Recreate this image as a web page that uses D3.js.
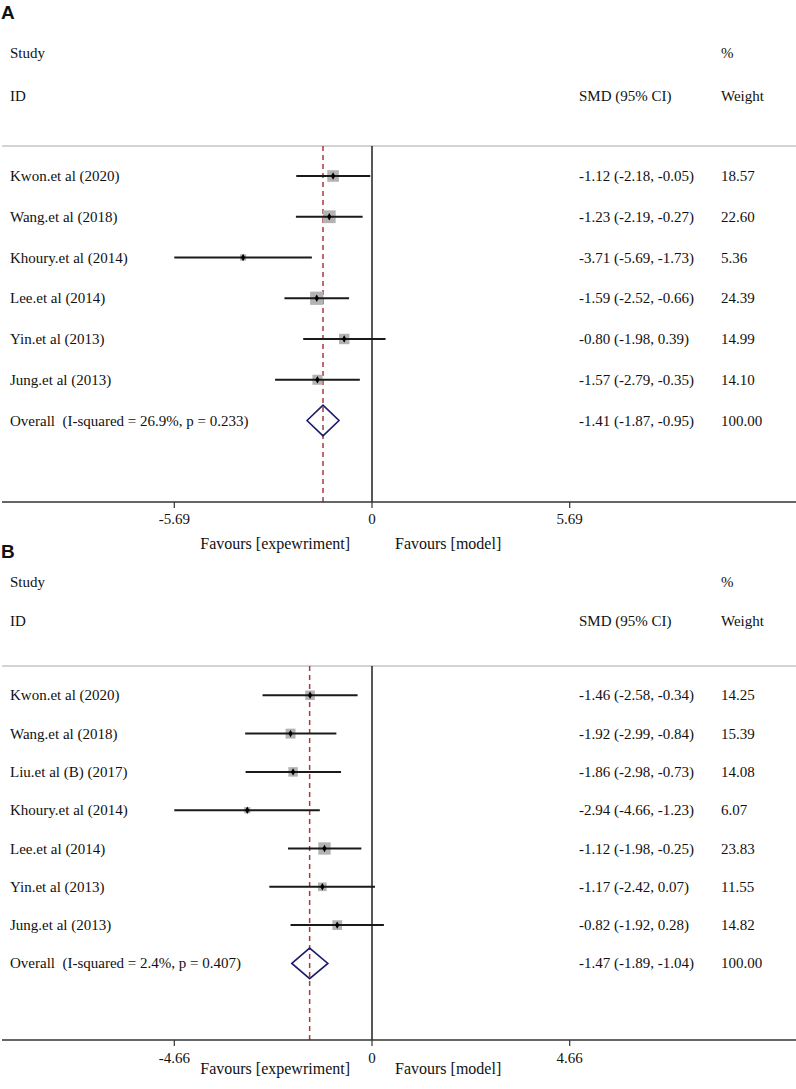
<!DOCTYPE html>
<html>
<head>
<meta charset="utf-8">
<script src="https://cdn.jsdelivr.net/npm/d3@7"></script>
<style>
body{margin:0;background:#fff;}
svg text{font-family:"Liberation Serif","Times New Roman",serif;fill:#111;white-space:pre;}
svg text.panel{font-family:"Liberation Sans",Arial,sans-serif;font-weight:bold;}
</style>
</head>
<body>
<div id="chart"></div>
<script>
// panel A
var studiesA=["Kwon.et al (2020)","Wang.et al (2018)","Khoury.et al (2014)","Lee.et al (2014)","Yin.et al (2013)","Jung.et al (2013)"];
var smdA=[-1.12,-1.23,-3.71,-1.59,-0.80,-1.57];
var lowA=[-2.18,-2.19,-5.69,-2.52,-1.98,-2.79];
var highA=[-0.05,-0.27,-1.73,-0.66,0.39,-0.35];
var weightA=[18.57,22.60,5.36,24.39,14.99,14.10];
var overallA=[-1.41,-1.87,-0.95,100.00];
var overallLabelA="Overall  (I-squared = 26.9%, p = 0.233)";
var tickA=5.69;

// panel B
var studiesB=["Kwon.et al (2020)","Wang.et al (2018)","Liu.et al (B) (2017)","Khoury.et al (2014)","Lee.et al (2014)","Yin.et al (2013)","Jung.et al (2013)"];
var smdB=[-1.46,-1.92,-1.86,-2.94,-1.12,-1.17,-0.82];
var lowB=[-2.58,-2.99,-2.98,-4.66,-1.98,-2.42,-1.92];
var highB=[-0.34,-0.84,-0.73,-1.23,-0.25,0.07,0.28];
var weightB=[14.25,15.39,14.08,6.07,23.83,11.55,14.82];
var overallB=[-1.47,-1.89,-1.04,100.00];
var overallLabelB="Overall  (I-squared = 2.4%, p = 0.407)";
var tickB=4.66;

var width=796, height=1089;
var zeroX=372, halfW=197.7;
var fmt0=d3.format(".2f");
function fmt(v){return fmt0(v).replace("\u2212","-");}

var svg=d3.select("#chart").append("svg")
	.attr("width",width)
	.attr("height",height);

function forestchart(name,studies,smd,low,high,weight,overall,overallLabel,tick,lay){

	var rows=studies.map(function(s,i){return {study:s,smd:smd[i],low:low[i],high:high[i],weight:weight[i]};});
	var nRows=rows.length+1;

	var x=d3.scaleLinear().domain([-tick,tick]).range([zeroX-halfW,zeroX+halfW]);
	var y=d3.scaleLinear().domain([0,1]).range([lay.row1,lay.row1+lay.step]);

	var g=svg.append("g").attr("class","forest_"+name);

	g.append("text").attr("class","panel")
		.attr("x",1).attr("y",lay.label)
		.attr("dominant-baseline","central")
		.style("font-size","19px")
		.text(name);

	// header
	g.append("text").attr("x",10).attr("y",lay.study).attr("dominant-baseline","central").style("font-size","15px").text("Study");
	g.append("text").attr("x",10).attr("y",lay.id).attr("dominant-baseline","central").style("font-size","15px").text("ID");
	g.append("text").attr("x",721).attr("y",lay.study).attr("dominant-baseline","central").style("font-size","15px").text("%");
	g.append("text").attr("x",579).attr("y",lay.id).attr("dominant-baseline","central").style("font-size","15px").text("SMD (95% CI)");
	g.append("text").attr("x",721).attr("y",lay.id).attr("dominant-baseline","central").style("font-size","15px").text("Weight");

	g.append("line")
		.attr("x1",2).attr("x2",width)
		.attr("y1",lay.sep).attr("y2",lay.sep)
		.style("stroke","#c4c4c4")
		.style("stroke-width","1.6px");

	// zero line and overall line
	g.append("line")
		.attr("x1",x(0)).attr("x2",x(0))
		.attr("y1",lay.sep).attr("y2",lay.axis)
		.style("stroke","#111")
		.style("stroke-width","1.4px");

	g.append("line")
		.attr("x1",x(overall[0])).attr("x2",x(overall[0]))
		.attr("y1",lay.sep).attr("y2",lay.axis)
		.style("stroke","#a63a3f")
		.style("stroke-width","1.5px")
		.style("stroke-dasharray","5,4");

	var boxK=lay.step*0.066;

	var rowG=g.selectAll("g.row")
		.data(rows)
		.enter()
		.append("g")
		.attr("class","row");

	rowG.append("rect")
		.attr("x",function(d){return x(d.smd)-boxK*Math.sqrt(d.weight)/2;})
		.attr("y",function(d,i){return y(i)-boxK*Math.sqrt(d.weight)/2;})
		.attr("width",function(d){return boxK*Math.sqrt(d.weight);})
		.attr("height",function(d){return boxK*Math.sqrt(d.weight);})
		.style("fill","#b3b3b3");

	rowG.append("line")
		.attr("x1",function(d){return x(d.low);})
		.attr("x2",function(d){return x(d.high);})
		.attr("y1",function(d,i){return y(i);})
		.attr("y2",function(d,i){return y(i);})
		.style("stroke","#1a1a1a")
		.style("stroke-width","2px");

	rowG.append("path")
		.attr("d",d3.symbol().type(d3.symbolDiamond).size(16))
		.attr("transform",function(d,i){return "translate("+x(d.smd)+","+y(i)+")";})
		.style("fill","#000");

	rowG.append("text")
		.attr("x",10)
		.attr("y",function(d,i){return y(i);})
		.attr("dominant-baseline","central")
		.style("font-size","15px")
		.text(function(d){return d.study;});

	rowG.append("text")
		.attr("x",579)
		.attr("y",function(d,i){return y(i);})
		.attr("dominant-baseline","central")
		.style("font-size","15px")
		.text(function(d){return fmt(d.smd)+" ("+fmt(d.low)+", "+fmt(d.high)+")";});

	rowG.append("text")
		.attr("x",721)
		.attr("y",function(d,i){return y(i);})
		.attr("dominant-baseline","central")
		.style("font-size","15px")
		.text(function(d){return fmt(d.weight);});

	// overall row
	var oy=y(nRows-1);
	var dh=15.3;
	g.append("path")
		.attr("d","M"+x(overall[1])+","+oy+"L"+x(overall[0])+","+(oy-dh)+"L"+x(overall[2])+","+oy+"L"+x(overall[0])+","+(oy+dh)+"Z")
		.style("fill","none")
		.style("stroke","#1b1b6b")
		.style("stroke-width","1.6px");

	g.append("text").attr("x",10).attr("y",oy).attr("dominant-baseline","central").style("font-size","15px").text(overallLabel);
	g.append("text").attr("x",579).attr("y",oy).attr("dominant-baseline","central").style("font-size","15px")
		.text(fmt(overall[0])+" ("+fmt(overall[1])+", "+fmt(overall[2])+")");
	g.append("text").attr("x",721).attr("y",oy).attr("dominant-baseline","central").style("font-size","15px").text(fmt(overall[3]));

	// axis
	g.append("line")
		.attr("x1",2).attr("x2",width)
		.attr("y1",lay.axis).attr("y2",lay.axis)
		.style("stroke","#333")
		.style("stroke-width","1.6px");

	var ticks=[-tick,0,tick];
	g.selectAll("line.tick")
		.data(ticks)
		.enter()
		.append("line")
		.attr("class","tick")
		.attr("x1",function(d){return x(d);})
		.attr("x2",function(d){return x(d);})
		.attr("y1",lay.axis)
		.attr("y2",lay.axis+6)
		.style("stroke","#333")
		.style("stroke-width","1.2px");

	g.selectAll("text.ticklab")
		.data(ticks)
		.enter()
		.append("text")
		.attr("class","ticklab")
		.attr("x",function(d){return x(d);})
		.attr("y",lay.ticklab)
		.attr("dominant-baseline","central")
		.style("text-anchor","middle")
		.style("font-size","15px")
		.text(function(d){return d==0?"0":fmt(d);});

	g.append("text")
		.attr("x",x(0)-22).attr("y",lay.fav)
		.attr("dominant-baseline","central")
		.style("text-anchor","end")
		.style("font-size","16px")
		.text("Favours [expewriment]");
	g.append("text")
		.attr("x",x(0)+23).attr("y",lay.fav)
		.attr("dominant-baseline","central")
		.style("font-size","16px")
		.text("Favours [model]");
}

forestchart("A",studiesA,smdA,lowA,highA,weightA,overallA,overallLabelA,tickA,
	{label:12,study:53,id:96,sep:146,row1:176,step:40.75,axis:502,ticklab:519,fav:543});
forestchart("B",studiesB,smdB,lowB,highB,weightB,overallB,overallLabelB,tickB,
	{label:551,study:582,id:621,sep:666,row1:695.3,step:38.3,axis:1040,ticklab:1058,fav:1068});
</script>
</body>
</html>
